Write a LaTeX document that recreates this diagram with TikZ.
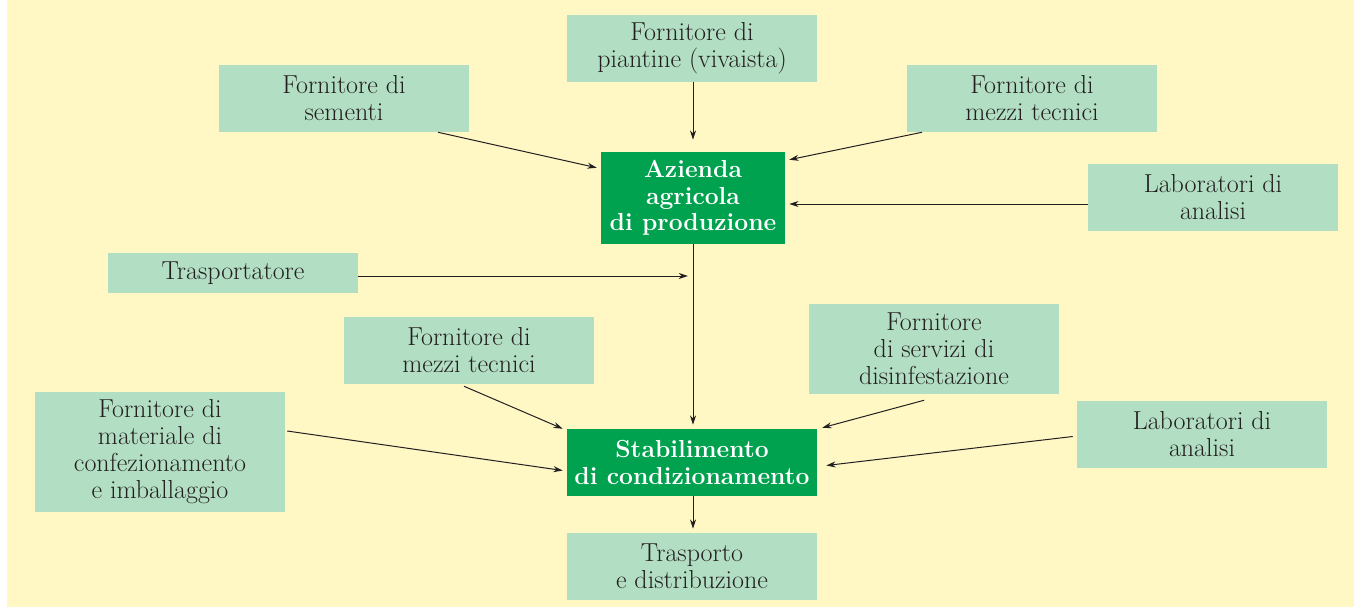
\documentclass[tikz,border=0pt]{standalone}
\usetikzlibrary{arrows.meta,calc}
\definecolor{bg}{HTML}{FFF8C5}
\definecolor{lg}{HTML}{B2DEC3}
\definecolor{dg}{HTML}{00A14F}
\definecolor{tx}{HTML}{231F20}
\begin{document}
\begin{tikzpicture}[x=0.75pt,y=-0.75pt,
 box/.style={fill=lg, text=tx, minimum width=187.5pt, minimum height=50.25pt, align=center, inner sep=0pt, font=\fontsize{19.5}{20.25}\selectfont},
 main/.style={fill=dg, text=white, align=center, inner sep=0pt, font=\fontsize{18.5}{20}\selectfont\bfseries},
 arr/.style={-{Stealth[length=7pt,width=4.5pt]}, draw=tx, line width=0.75pt}]
\fill[white] (0,0) rectangle (1354,607);
\fill[bg] (7,0) rectangle (1354,607);
\useasboundingbox (0,0) rectangle (1354,607);

\node[box] (piant) at (692,48.5) {Fornitore di\\piantine (vivaista)};
\node[box] (sem) at (344,98.5) {Fornitore di\\sementi};
\node[box] (mezzi1) at (1032,98.5) {Fornitore di\\mezzi tecnici};
\node[box] (lab1) at (1213,197.5) {Laboratori di\\analisi};
\node[main, minimum width=138pt, minimum height=69pt] (az) at (693,198) {Azienda\\agricola\\di produzione};
\node[box, minimum height=30pt] (trasp) at (233,273) {Trasportatore};
\coordinate (traspend) at (688,276);
\node[box] (mezzi2) at (469,350.5) {Fornitore di\\mezzi tecnici};
\node[box, minimum height=67.5pt] (dis) at (934,349) {Fornitore\\di servizi di\\disinfestazione};
\node[box, minimum height=90pt] (mat) at (160,452) {Fornitore di\\materiale di\\confezionamento\\e imballaggio};
\node[box] (lab2) at (1202,434.5) {Laboratori di\\analisi};
\node[main, minimum width=187.5pt, minimum height=50.25pt] (stab) at (692,462.5) {Stabilimento\\di condizionamento};
\node[box] (distr) at (692,566.5) {Trasporto\\e distribuzione};

\draw[arr] (piant.south -| az.north) -- ($(az.north)+(0,-12)$);
\draw[arr] ($(sem.south)+(94,0)$) -- ($(az.north west)+(-4,16)$);
\draw[arr] ($(mezzi1.south)+(-110,0)$) -- ($(az.north east)+(4,8)$);
\draw[arr] (lab1.west |- 0,204) -- ($(az.east |- 0,204)+(4,0)$);
\draw[arr] (az.south) -- ($(stab.north -| az.south)+(0,-4)$);
\draw[arr] (trasp.east |- traspend) -- (traspend);
\draw[arr] ($(mezzi2.south)+(-5,2)$) -- ($(stab.north west)+(-4,0)$);
\draw[arr] ($(dis.south)+(-10,6)$) -- ($(stab.north east)+(5,-1)$);
\draw[arr] ($(mat.east)+(2,-21)$) -- ($(stab.west)+(-4,8)$);
\draw[arr] ($(lab2.west)+(-4,2)$) -- ($(stab.east)+(9,3)$);
\draw[arr] (stab.south -| az.south) -- ($(distr.north -| az.south)+(0,-4)$);
\end{tikzpicture}
\end{document}
